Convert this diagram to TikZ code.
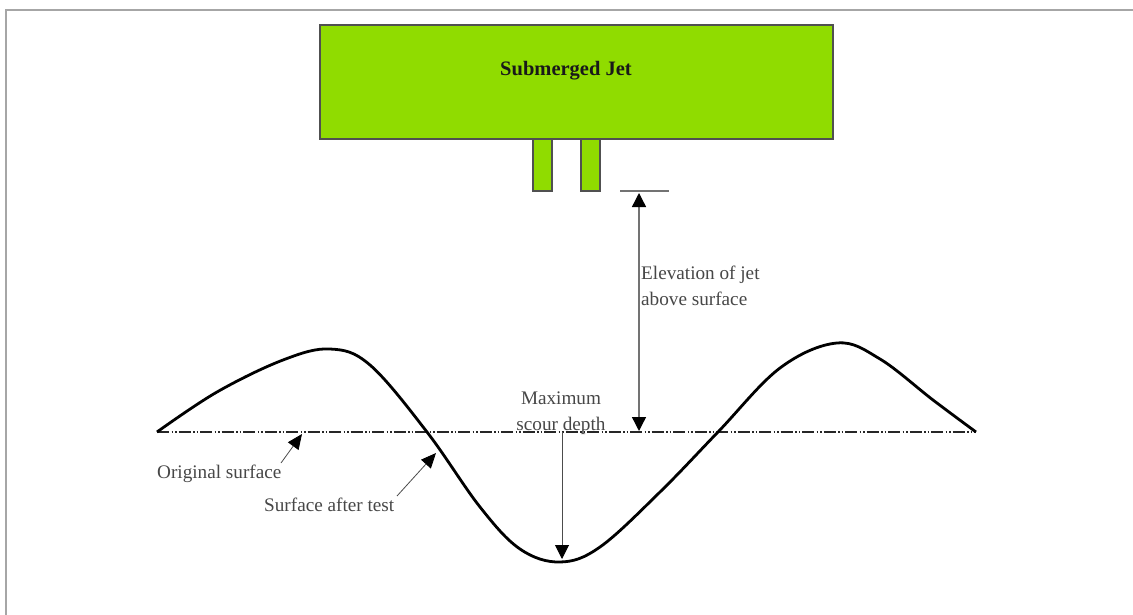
\documentclass[tikz,border=0pt]{standalone}
\usepackage{fontspec}
\setmainfont{Liberation Serif}
\usetikzlibrary{arrows.meta}
\definecolor{jetgreen}{HTML}{90DC00}
\definecolor{edgegray}{HTML}{505050}
\tikzset{
  x=1pt,y=-1pt,
  jetbox/.style={draw=edgegray,line width=1.2pt,fill=jetgreen,inner sep=0pt,outer sep=0pt,anchor=north west},
  lab/.style={font=\fontsize{19.2}{25.5}\selectfont,text=black!72,align=left,inner sep=0pt},
  dim/.style={draw=black!55,line width=1.4pt},
  headtip/.tip={Triangle[length=14pt,width=14pt,color=black]},
  pointer/.style={draw=black!70,line width=.8pt,-{Triangle[length=15pt,width=13pt,color=black]}},
}
\begin{document}
\begin{tikzpicture}
\useasboundingbox (0,0) rectangle (1133,615);
\fill[white] (0,0) rectangle (1133,615);
\draw[black!35,line width=1.6pt] (6,615) -- (6,10) -- (1133,10);
% jet
\node[jetbox,minimum width=513pt,minimum height=114pt] (jet) at (320,25) {};
\node[font=\bfseries\fontsize{20.5}{24}\selectfont,text=black!90] (jetlab) at (566,71) {Submerged Jet};
\node[jetbox,minimum width=19pt,minimum height=52pt] (noz1) at (533,139) {};
\node[jetbox,minimum width=19pt,minimum height=52pt] (noz2) at (581,139) {};
% ticks and reference coordinates
\coordinate (tickL) at (620,191);
\coordinate (tickR) at (669,191);
\draw[dim] (tickL) -- (tickR);
\coordinate (elevTop) at (639,193);
\coordinate (elevBot) at (639,431);
\coordinate (origL) at (157,432);
\coordinate (origR) at (976,432);
\coordinate (scourTop) at (562,432);
\coordinate (scourBot) at (562,559);
% surfaces
\draw[black!85,line width=1.1pt,dash pattern=on 12pt off 2.5pt on 1.5pt off 2pt on 1.5pt off 2pt] (origL) -- (origR);
\draw[black,line width=2.8pt,line join=round] plot[smooth,tension=.6] coordinates {
 (157,432) (217,392) (283,360) (330,349) (370,365) (427,432) (480,507) (520,549)
 (560,562) (600,547) (660,492) (718,432) (780,368) (837,343) (880,359) (933,400) (976,432)};
% dimension arrows
\draw[dim,headtip-headtip] (elevTop) -- (elevBot);
\draw[draw=black!70,line width=1pt,-headtip] (scourTop) -- (scourBot);
% labels
\node[lab,anchor=north west] (elev) at (641,266) {Elevation of jet\\above surface};
\node[lab,align=center,anchor=north] (scour) at (561,392) {Maximum\\scour depth};
\node[lab,anchor=west] (orig) at (157,474) {Original surface};
\node[lab,anchor=west] (after) at (264,505) {Surface after test};
\draw[pointer] (281,463) -- (302,434);
\draw[pointer] (397,496) -- (436,453);
\end{tikzpicture}
\end{document}
